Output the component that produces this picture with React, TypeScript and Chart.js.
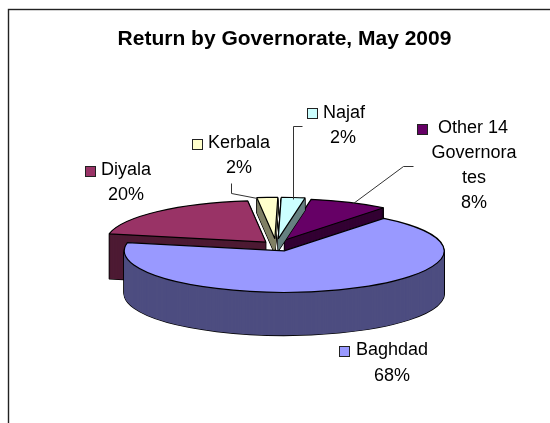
import React, { useEffect, useRef } from "react";
import { Chart, registerables } from "chart.js";

Chart.register(...registerables);

const categories = ["Baghdad", "Diyala", "Kerbala", "Najaf", "Other 14 Governorates"];
const values = [67.5, 20, 2.1, 2.4, 8];
const topColors = ["#9999FF", "#993366", "#FFFFCC", "#CCFFFF", "#660066"];
const sideColors = ["#4D4D80", "#4D1A33", "#808066", "#668080", "#330033"];
const explodes = [24, 15, 24, 24, 20];
const depths = [43, 45, 15, 12, 43];
const drawOrder = [4, 3, 2, 1, 0];
const titleText = "Return by Governorate, May 2009";

const labelLayout = [
  { lines: ["Baghdad", "68%"], keyX: 339, keyY: 346, textX: 356, cx: 392, y: 350, step: 26 },
  { lines: ["Diyala", "20%"], keyX: 85, keyY: 166, textX: 101, cx: 126, y: 170, step: 25 },
  { lines: ["Kerbala", "2%"], keyX: 192, keyY: 139, textX: 208, cx: 239, y: 143, step: 25 },
  { lines: ["Najaf", "2%"], keyX: 307, keyY: 108, textX: 323, cx: 343, y: 113, step: 25 },
  { lines: ["Other 14", "Governora", "tes", "8%"], keyX: 417, keyY: 124, textX: 438, cx: 474, y: 128, step: 25 },
];
const leaders = [
  [[231, 183], [231, 193], [257, 198]],
  [[302, 126], [293, 126], [293, 199]],
  [[413, 166], [403, 166], [353, 203]],
];

const SQUASH = 41.5 / 160;

const pie3d = {
  id: "pie3d",
  beforeDatasetDraw(chart: any, args: any) {
    const ctx = chart.ctx;
    const meta = args.meta;
    const nativeStroke = ctx.stroke;
    // keep outlines 1px wide although the path is built under a squashing transform
    ctx.stroke = function () {
      ctx.save();
      ctx.setTransform(1, 0, 0, 1, 0, 0);
      nativeStroke.call(ctx);
      ctx.restore();
    };
    const paint = (arc: any, i: number, dy: number, opts: any) => {
      const mid = (arc.startAngle + arc.endAngle) / 2;
      const saved = arc.options;
      arc.options = { ...saved, ...opts };
      ctx.save();
      ctx.translate(arc.x + Math.cos(mid) * explodes[i], arc.y + Math.sin(mid) * explodes[i] * SQUASH + dy);
      ctx.scale(1, SQUASH);
      ctx.translate(-arc.x, -arc.y);
      arc.draw(ctx);
      ctx.restore();
      arc.options = saved;
    };
    drawOrder.forEach((i) => {
      const arc = meta.data[i];
      for (let d = depths[i]; d > 0; d--) paint(arc, i, d, { backgroundColor: "#000", borderColor: "#000", borderWidth: 1.4 });
      for (let d = depths[i]; d > 0; d--) paint(arc, i, d, { backgroundColor: sideColors[i], borderWidth: 0 });
      paint(arc, i, 0, { backgroundColor: topColors[i], borderColor: "#000", borderWidth: 1.2 });
    });
    delete ctx.stroke;
    return false;
  },
  afterDraw(chart: any) {
    const ctx = chart.ctx;
    ctx.save();
    ctx.strokeStyle = "#222";
    ctx.lineWidth = 1.4;
    ctx.strokeRect(8.5, 9.5, 560, 440);
    ctx.strokeStyle = "#333";
    ctx.lineWidth = 1;
    leaders.forEach((pts) => {
      ctx.beginPath();
      pts.forEach(([x, y], j) => (j ? ctx.lineTo(x + 0.5, y + 0.5) : ctx.moveTo(x + 0.5, y + 0.5)));
      ctx.stroke();
    });
    ctx.textBaseline = "middle";
    ctx.font = "bold 21px 'Liberation Sans'";
    ctx.fillStyle = "#000";
    ctx.textAlign = "center";
    ctx.fillText(titleText, 284.5, 39);
    ctx.font = "18px 'Liberation Sans'";
    labelLayout.forEach((l, i) => {
      ctx.fillStyle = topColors[i];
      ctx.fillRect(l.keyX + 0.5, l.keyY + 0.5, 10, 10);
      ctx.strokeStyle = "#222";
      ctx.strokeRect(l.keyX + 0.5, l.keyY + 0.5, 10, 10);
      ctx.fillStyle = "#000";
      l.lines.forEach((t, j) => {
        ctx.textAlign = j === 0 ? "left" : "center";
        ctx.fillText(t, j === 0 ? l.textX : l.cx, l.y + j * l.step);
      });
    });
    ctx.restore();
  },
};

export default function App() {
  const ref = useRef<HTMLCanvasElement>(null);
  useEffect(() => {
    const chart = new Chart(ref.current!, {
      type: "pie",
      data: {
        labels: categories,
        datasets: [{ data: values, backgroundColor: topColors, borderColor: "#000", borderWidth: 1 }],
      },
      options: {
        responsive: false,
        animation: false,
        rotation: 38.5,
        radius: 160,
        layout: { padding: { left: 2, right: 0, top: 67, bottom: 0 } },
        events: [],
        plugins: {
          legend: { display: false },
          tooltip: { enabled: false },
          title: { display: false },
        },
      },
      plugins: [pie3d],
    } as any);
    return () => chart.destroy();
  }, []);
  return (
    <div style={{ position: "absolute", left: 0, top: 0, width: 550, height: 423, overflow: "hidden", background: "#fff" }}>
      <canvas ref={ref} width={550} height={423} style={{ display: "block" }} />
    </div>
  );
}
